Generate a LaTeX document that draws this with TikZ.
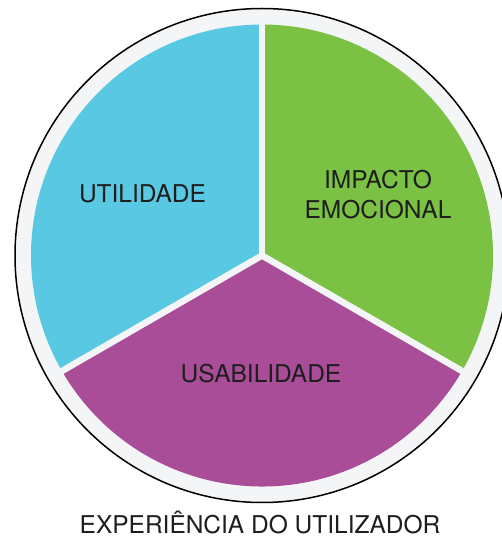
\documentclass[tikz,border=0pt]{standalone}
\usepackage{fontspec}
\setmainfont{TeX Gyre Heros}
\definecolor{utilblue}{RGB}{89,200,227}
\definecolor{impgreen}{RGB}{123,193,67}
\definecolor{usapurple}{RGB}{170,77,153}
\definecolor{ringgray}{RGB}{244,245,247}
\definecolor{labelink}{RGB}{30,30,30}

\begin{document}
\begin{tikzpicture}[x=1pt,y=1pt]
    \tikzset{
        label text/.style={text=labelink, font=\fontsize{24.5}{30}\selectfont, align=center, inner sep=0pt},
        % white gaps between the three parts
        gap/.style={draw=ringgray, line width=6.5pt}
    }
    \useasboundingbox (0,0) rectangle (502,539);
    \fill[white] (0,0) rectangle (502,539);
    \coordinate (c) at (262,283.5);
    % outer ring
    \draw[fill=ringgray, line width=1.5pt] (c) circle[radius=247];
    % the three parts
    \fill[utilblue] (c) -- ++(90:231) arc[start angle=90, end angle=210, radius=231] -- cycle;
    \fill[impgreen] (c) -- ++(-30:231) arc[start angle=-30, end angle=90, radius=231] -- cycle;
    \fill[usapurple] (c) -- ++(210:231) arc[start angle=210, end angle=330, radius=231] -- cycle;
    \draw[gap] (c) -- ++(90:238);
    \draw[gap] (c) -- ++(210:238);
    \draw[gap] (c) -- ++(330:238);
    \node[label text] (utilidade) at (142.5,345) {UTILIDADE};
    \node[label text] (impacto) at (378,344) {IMPACTO\\EMOCIONAL};
    \node[label text] (usabilidade) at (261,165) {USABILIDADE};
    \node[label text, anchor=base] (experiencia) at (260,5.5) {EXPERIÊNCIA DO UTILIZADOR};
\end{tikzpicture}
\end{document}
